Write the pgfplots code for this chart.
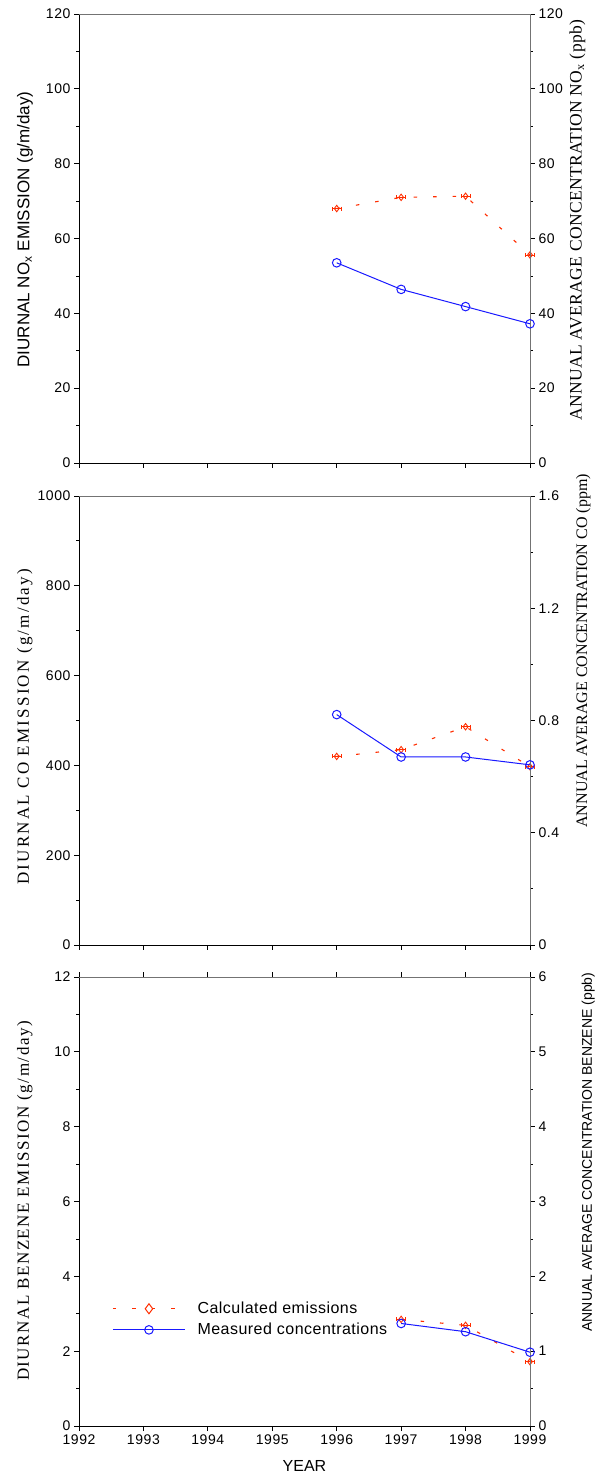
\documentclass[border=0pt]{standalone}
\usepackage{fontspec}
\setmainfont{Liberation Sans}
\newfontfamily\tnr{Liberation Serif}
\usepackage{pgfplots}
\pgfplotsset{compat=1.18}
\definecolor{cred}{RGB}{255,45,0}
\definecolor{cblue}{RGB}{25,25,255}
\definecolor{lgray}{RGB}{115,115,115}
\pgfplotsset{
  base/.style={scale only axis, width=451pt, height=449pt,
    xmin=1992, xmax=1999, enlargelimits=false, clip=false,
    tick align=outside, major tick length=5pt, minor tick length=3pt,
    tick style={black, line width=0.8pt},
    tick label style={font=\fontsize{14}{14}\selectfont\addfontfeatures{LetterSpace=4}},
    /pgf/number format/assume math mode=true,
    /pgf/number format/1000 sep={},
    minor y tick num=1},
  leftax/.style={base, axis x line*=bottom, axis y line*=left,
    axis line style={black, line width=0.9pt},
    xtick={1992,...,1999}},
  rightax/.style={base, axis x line*=top, axis y line*=right,
    axis line style={lgray, line width=0.9pt}},
  redstyle/.style={cred, line width=1.1pt, dash pattern=on 3.5pt off 16pt,
    mark=diamond, mark size=3.2pt, mark options={solid, line width=0.9pt},
    error bars/.cd, x dir=both, x fixed=0.07,
    error bar style={solid, line width=0.9pt}, error mark options={rotate=90, mark size=2pt, solid}},
  bluestyle/.style={cblue, line width=1pt, mark=o, mark size=4.3pt,
    mark options={solid, line width=1pt}},
  legend image code/.code={%
    \draw[mark repeat=2,mark phase=2,#1] plot coordinates {(0pt,0pt)(36pt,0pt)(72pt,0pt)};
    \path (82pt,0pt);},
}
\begin{document}
\begin{tikzpicture}
\useasboundingbox (-79pt,-50pt) rectangle (522pt,1426pt);
% ---------------- Panel 1 ----------------
\begin{axis}[leftax, at={(0pt,963pt)}, anchor=south west,
  ymin=0, ymax=120, ytick={0,20,...,120}, xticklabels={},
  ylabel={DIURNAL NO\textsubscript{x} EMISSION (g/m/day)},
  ylabel style={at={(axis description cs:-0.12,0.52)}, anchor=center, font=\fontsize{17}{17}\selectfont}]
\addplot[redstyle] coordinates {(1996,68.0) (1997,71.0) (1998,71.3) (1999,55.6)};
\end{axis}
\begin{axis}[rightax, at={(0pt,963pt)}, anchor=south west,
  ymin=0, ymax=120, ytick={0,20,...,120}, xtick=\empty,
  ylabel={ANNUAL AVERAGE CONCENTRATION NO\textsubscript{x} (ppb)},
  ylabel style={at={(axis description cs:1.105,0.541)}, anchor=center, font=\tnr\fontsize{17.5}{17.5}\selectfont\addfontfeatures{LetterSpace=2}}]
\addplot[bluestyle] coordinates {(1996,53.5) (1997,46.4) (1998,41.8) (1999,37.2)};
\end{axis}
% ---------------- Panel 2 ----------------
\begin{axis}[leftax, at={(0pt,481pt)}, anchor=south west,
  ymin=0, ymax=1000, ytick={0,200,...,1000}, xticklabels={},
  ylabel={DIURNAL CO EMISSION (g/m/day)},
  ylabel style={at={(axis description cs:-0.12,0.486)}, anchor=center, font=\tnr\fontsize{17}{17}\selectfont\addfontfeatures{LetterSpace=13}}]
\addplot[redstyle] coordinates {(1996,420) (1997,435) (1998,486) (1999,397)};
\end{axis}
\begin{axis}[rightax, at={(0pt,481pt)}, anchor=south west,
  ymin=0, ymax=1.6, ytick={0,0.4,0.8,1.2,1.6}, xtick=\empty,
  ylabel={ANNUAL AVERAGE CONCENTRATION CO (ppm)},
  ylabel style={at={(axis description cs:1.118,0.655)}, anchor=center, font=\tnr\fontsize{16}{16}\selectfont}]
\addplot[bluestyle] coordinates {(1996,0.821) (1997,0.670) (1998,0.670) (1999,0.642)};
\end{axis}
% ---------------- Panel 3 ----------------
\begin{axis}[leftax, at={(0pt,0pt)}, anchor=south west,
  ymin=0, ymax=12, ytick={0,2,...,12},
  xlabel={YEAR}, xlabel style={at={(axis description cs:0.5,-0.089)}, anchor=center, font=\fontsize{16}{16}\selectfont},
  ylabel={DIURNAL BENZENE EMISSION (g/m/day)},
  ylabel style={at={(axis description cs:-0.12,0.501)}, anchor=center, font=\tnr\fontsize{17}{17}\selectfont\addfontfeatures{LetterSpace=9}}]
\addplot[redstyle] coordinates {(1997,2.85) (1998,2.69) (1999,1.72)};
\end{axis}
\begin{axis}[rightax, at={(0pt,0pt)}, anchor=south west,
  ymin=0, ymax=6, ytick={0,1,...,6}, xtick={1992,...,1999}, xticklabels={},
  ylabel={ANNUAL AVERAGE CONCENTRATION BENZENE (ppb)},
  ylabel style={at={(axis description cs:1.129,0.61)}, anchor=center, font=\fontsize{14}{14}\selectfont},
  legend style={draw=none, fill=none, at={(axis description cs:0.067,0.285)}, anchor=north west,
    font=\fontsize{16}{16}\selectfont\addfontfeatures{LetterSpace=3}, row sep=4pt, cells={anchor=west}}]
\addlegendimage{cred, line width=1.1pt, dash pattern=on 3.5pt off 16pt, mark=diamond, mark size=5pt, mark options={solid, line width=1pt}}
\addlegendentry{Calculated emissions}
\addplot[bluestyle] coordinates {(1997,1.37) (1998,1.26) (1999,0.986)};
\addlegendentry{Measured concentrations}
\end{axis}
\end{tikzpicture}
\end{document}
